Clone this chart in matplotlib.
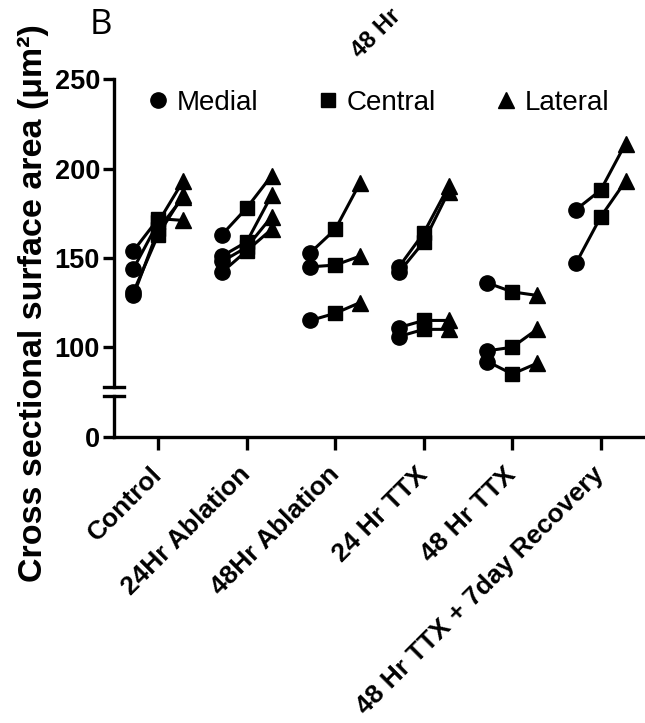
import matplotlib
matplotlib.use("Agg")
import matplotlib.pyplot as plt
from matplotlib.lines import Line2D

plt.rcParams['font.family'] = ['Liberation Sans', 'DejaVu Sans']

groups = ["Control", "24Hr Ablation", "48Hr Ablation", "24 Hr TTX",
          "48 Hr TTX", "48 Hr TTX + 7day Recovery"]
# one entry per traced cell, per group: medial -> central -> lateral
medial = [[154, 144, 131, 129], [163, 151, 148, 142], [153, 145, 115],
          [145, 142, 111, 106], [136, 98, 92], [177, 147]]
central = [[172, 170, 163, 166], [178, 159, 156, 154], [166, 146, 119],
           [164, 159, 115, 110], [131, 100, 85], [188, 173]]
lateral = [[171, 193, 185, 184], [196, 185, 173, 166], [192, 151, 125],
           [190, 187, 115, 110], [129, 110, 91], [214, 193]]
yticks_top = [100, 150, 200, 250]
legend_names = ["Medial", "Central", "Lateral"]
markers = ["o", "s", "^"]

lw = 2.4
fig = plt.figure(figsize=(6.45, 7.23), dpi=100)
left = 114 / 645
ax_top = fig.add_axes([left, 1 - 386.7 / 723, 1 - left, 307.4 / 723])
ax_bot = fig.add_axes([left, 1 - 437.5 / 723, 1 - left, 41.5 / 723], sharex=ax_top)

dx = 0.28
for g in range(len(groups)):
    for m, c, l in zip(medial[g], central[g], lateral[g]):
        ax_top.plot([g - dx, g, g + dx], [m, c, l], color="k", lw=2.2, clip_on=False, zorder=2)
        for x, v, mk in zip([g - dx, g, g + dx], [m, c, l], markers):
            ax_top.plot(x, v, marker=mk, color="k", ms=11 if mk != "s" else 10.5,
                        ls="none", clip_on=False, zorder=3)

ax_top.set_xlim(-0.5, 5.5)
ax_top.set_ylim(77.9, 250)
ax_bot.set_ylim(0, 23.2)
ax_top.set_yticks(yticks_top)
ax_bot.set_yticks([0])

for ax in (ax_top, ax_bot):
    ax.spines["top"].set_visible(False)
    ax.spines["right"].set_visible(False)
    ax.spines["left"].set_linewidth(lw)
    ax.spines["bottom"].set_linewidth(lw)
    ax.tick_params(axis="y", direction="out", length=8, width=lw, pad=2,
                   labelsize=19.5)
    for t in ax.get_yticklabels():
        t.set_fontweight("bold")
ax_top.spines["bottom"].set_visible(False)
ax_top.tick_params(axis="x", bottom=False, labelbottom=False)

ax_bot.set_xticks(range(len(groups)))
ax_bot.set_xticklabels(groups, rotation=45, ha="right", va="center",
                       rotation_mode="anchor", fontsize=19, fontweight="bold")
ax_bot.tick_params(axis="x", direction="out", length=9, width=lw, pad=15)

# axis break marks
w = 10 / 531
ax_top.plot([-w, w], [0, 0], transform=ax_top.transAxes, color="k", lw=lw, clip_on=False)
ax_bot.plot([-w, w], [1, 1], transform=ax_bot.transAxes, color="k", lw=lw, clip_on=False)

handles = [Line2D([], [], marker=mk, color="k", ls="none", ms=11 if mk != "s" else 10.5)
           for mk in markers]
fig.legend(handles, legend_names, loc="center left", ncol=3, frameon=False,
           bbox_to_anchor=(149.7 / 645, 1 - 103 / 723), borderpad=0, borderaxespad=0,
           handlelength=0.6, handletextpad=0.38, columnspacing=2.2, fontsize=20)

fig.text(33 / 645, 1 - 582 / 723, "Cross sectional surface area (μm²)", rotation=90,
         ha="center", va="bottom", fontsize=24.5, fontweight="bold")
fig.text(90 / 645, 1 - 25 / 723, "B", ha="left", va="center", fontsize=25,
         family=["Open Sans", "DejaVu Sans"])
fig.text(364 / 645, 1 - 63 / 723, "48 Hr", rotation=45, rotation_mode="anchor",
         ha="left", va="bottom", fontsize=17, fontweight="bold")

fig.savefig("out.png", dpi=100)
